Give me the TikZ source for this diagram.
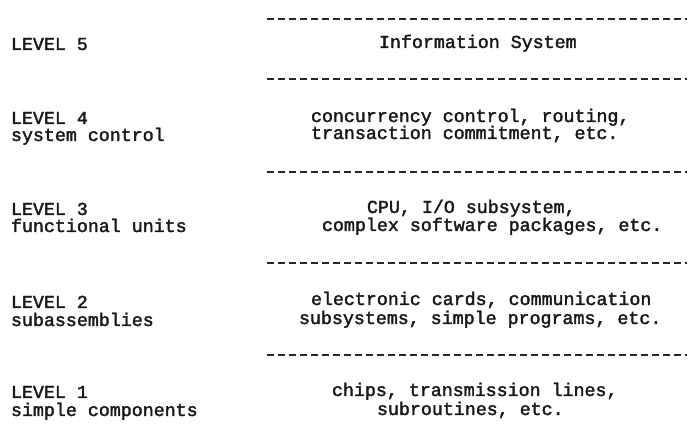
\documentclass[tikz,border=0pt]{standalone}
\usepackage{fontspec}
\newfontfamily\dotfont{Liberation Mono}[FakeBold=2]
\begin{document}
\begin{tikzpicture}[x=1pt,y=-1pt,
  txt/.style={font=\dotfont\fontsize{18.3}{20}\selectfont, anchor=base west, inner sep=0pt, outer sep=0pt, text=black!90},
  rule/.style={line width=1.5pt, dash pattern=on 7pt off 4pt, black!85}]
\useasboundingbox (0,0) rectangle (694,443);
% dashed rules
\coordinate (r1a) at (267,19);  \coordinate (r1b) at (687,19);
\coordinate (r2a) at (267,79);  \coordinate (r2b) at (687,79);
\coordinate (r3a) at (267,172); \coordinate (r3b) at (687,172);
\coordinate (r4a) at (267,263); \coordinate (r4b) at (687,263);
\coordinate (r5a) at (267,355); \coordinate (r5b) at (687,355);
\draw[rule] (r1a) -- (r1b);
\draw[rule] (r2a) -- (r2b);
\draw[rule] (r3a) -- (r3b);
\draw[rule] (r4a) -- (r4b);
\draw[rule] (r5a) -- (r5b);
% left column
\node[txt] (l5)  at (11,50)  {LEVEL 5};
\node[txt] (l4)  at (11,124) {LEVEL 4};
\node[txt] (l4b) at (11,141) {system control};
\node[txt] (l3)  at (11,215) {LEVEL 3};
\node[txt] (l3b) at (11,232) {functional units};
\node[txt] (l2)  at (11,308) {LEVEL 2};
\node[txt] (l2b) at (11,326) {subassemblies};
\node[txt] (l1)  at (11,398) {LEVEL 1};
\node[txt] (l1b) at (11,416) {simple components};
% right column
\node[txt] (d5)  at (379,48)  {Information System};
\node[txt] (d4)  at (311,122) {concurrency control, routing,};
\node[txt] (d4b) at (311,139) {transaction commitment, etc.};
\node[txt] (d3)  at (367,213) {CPU, I/O subsystem,};
\node[txt] (d3b) at (322,231) {complex software packages, etc.};
\node[txt] (d2)  at (311,305) {electronic cards, communication};
\node[txt] (d2b) at (299,324) {subsystems, simple programs, etc.};
\node[txt] (d1)  at (332,396) {chips, transmission lines,};
\node[txt] (d1b) at (377,415) {subroutines, etc.};
\end{tikzpicture}
\end{document}
